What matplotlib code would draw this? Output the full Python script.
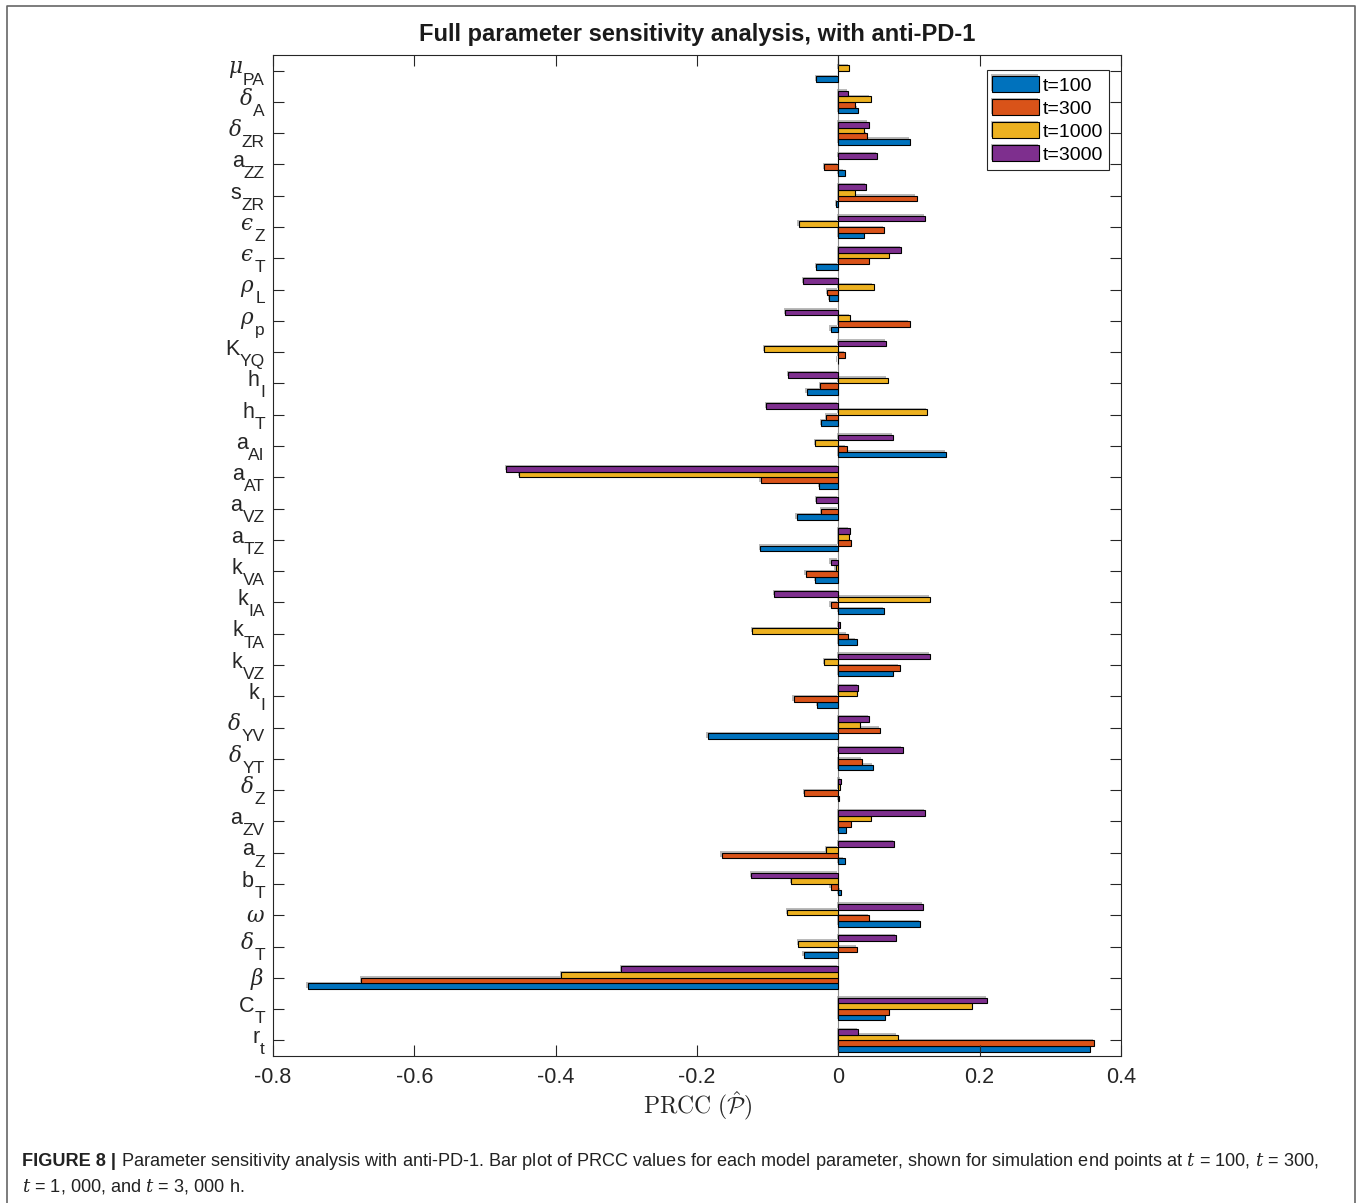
import matplotlib
matplotlib.use("Agg")
import matplotlib.pyplot as plt
import matplotlib.patheffects as pe
from matplotlib.transforms import offset_copy
import numpy as np

plt.rcParams['font.family'] = ['Liberation Sans', 'DejaVu Sans']
plt.rcParams['mathtext.fontset'] = 'custom'
plt.rcParams['mathtext.rm'] = 'Liberation Sans'
plt.rcParams['mathtext.it'] = 'DejaVu Serif:italic'
plt.rcParams['mathtext.bf'] = 'Liberation Sans:bold'

# parameters, top to bottom: main symbol and subscript
symbols = [r'$\mu$', r'$\delta$', r'$\delta$', 'a', 's', '$\u03f5$', '$\u03f5$', r'$\rho$',
           r'$\rho$', 'K', 'h', 'h', 'a', 'a', 'a', 'a', 'k', 'k', 'k', 'k', 'k',
           r'$\delta$', r'$\delta$', r'$\delta$', 'a', 'a', 'b', r'$\omega$', r'$\delta$',
           r'$\beta$', 'C', 'r']
subs = ['PA', 'A', 'ZR', 'ZZ', 'ZR', 'Z', 'T', 'L', 'p', 'YQ', 'I', 'T', 'AI', 'AT', 'VZ',
        'TZ', 'VA', 'IA', 'TA', 'VZ', 'I', 'YV', 'YT', 'Z', 'ZV', 'Z', 'T', '', 'T', '',
        'T', 't']

t100 = [-0.031, 0.028, 0.102, 0.009, -0.003, 0.036, -0.031, -0.013, -0.011, -0.001,
        -0.045, -0.024, 0.153, -0.027, -0.059, -0.111, -0.033, 0.065, 0.026, 0.077,
        -0.030, -0.185, 0.049, 0.001, 0.011, 0.009, 0.004, 0.116, -0.049, -0.751,
        0.066, 0.356]
t300 = [0.0, 0.024, 0.041, -0.020, 0.111, 0.065, 0.043, -0.016, 0.101, 0.010,
        -0.026, -0.017, 0.012, -0.110, -0.024, 0.018, -0.046, -0.011, 0.013, 0.087,
        -0.063, 0.059, 0.034, -0.048, 0.018, -0.165, -0.011, 0.044, 0.027, -0.675,
        0.072, 0.362]
t1000 = [0.015, 0.046, 0.037, 0.0, 0.024, -0.056, 0.072, 0.050, 0.017, -0.105,
         0.070, 0.126, -0.033, -0.452, 0.0, 0.015, -0.004, 0.130, -0.122, -0.020,
         0.027, 0.030, 0.0, 0.003, 0.046, -0.017, -0.067, -0.072, -0.057, -0.392,
         0.189, 0.084]
t3000 = [0.0, 0.014, 0.043, 0.055, 0.039, 0.123, 0.089, -0.050, -0.075, 0.068,
         -0.071, -0.102, 0.078, -0.470, -0.031, 0.016, -0.011, -0.091, 0.002, 0.130,
         0.028, 0.044, 0.091, 0.004, 0.123, 0.079, -0.123, 0.120, 0.082, -0.307,
         0.211, 0.028]

series = [t100, t300, t1000, t3000]
labels = ['t=100', 't=300', 't=1000', 't=3000']
colors = ['#0072BD', '#D95319', '#EDB120', '#7E2F8E']
xticks = [-0.8, -0.6, -0.4, -0.2, 0, 0.2, 0.4]
xticklabels = ['-0.8', '-0.6', '-0.4', '-0.2', '0', '0.2', '0.4']

n = len(symbols)
ypos = np.arange(n, 0, -1)
h = 0.727 / 4
txtcol = '#262626'

fig = plt.figure(figsize=(13.57, 12.03), dpi=100)
ax = fig.add_axes([273 / 1357, 1 - 1056 / 1203, 848 / 1357, 1001 / 1203])

shadow = [pe.SimplePatchShadow(offset=(-1, 1), shadow_rgbFace='0.55', alpha=0.6), pe.Normal()]
for k, vals in enumerate(series):
    bars = ax.barh(ypos + (k - 1.5) * h, vals, height=h, color=colors[k],
                   edgecolor='black', linewidth=0.8, label=labels[k])
    for b in bars:
        b.set_path_effects(shadow)

ax.axvline(0, color='0.55', linewidth=0.8, zorder=0)
ax.set_xlim(-0.8, 0.4)
ax.set_ylim(0.5, n + 0.5)
ax.set_yticks(ypos)
ax.set_yticklabels([])
ax.set_xticks(xticks)
ax.set_xticklabels(xticklabels, fontsize=15.5)
ax.tick_params(direction='in', length=8, width=0.8, color=txtcol, labelcolor=txtcol,
               top=True, right=True)
ax.tick_params(axis='x', pad=8)
for s in ax.spines.values():
    s.set_color(txtcol)
    s.set_linewidth(0.8)

# y labels: symbol raised, subscript dropped (MATLAB tex look)
renderer = fig.canvas.get_renderer()
ytrans = ax.get_yaxis_transform()
for y, sym, sub in zip(ypos, symbols, subs):
    w_pt = 0
    if sub:
        st = ax.text(0, y, sub, ha='right', va='baseline', fontsize=12.5, color=txtcol,
                     transform=offset_copy(ytrans, fig, x=-5.8, y=-10, units='points'))
        w_pt = st.get_window_extent(renderer).width * 72 / fig.dpi
    dy = -2 if sub else -5
    ax.text(0, y, sym, ha='right', va='baseline', fontsize=15.5, color=txtcol,
            transform=offset_copy(ytrans, fig, x=-5.8 - w_pt - 0.3, y=dy, units='points'))

ax.set_xlabel(r'$\mathrm{PRCC}\ (\hat{\mathcal{P}})$', fontsize=17, math_fontfamily='cm',
              color=txtcol, labelpad=1)

leg = ax.legend(loc='upper right', bbox_to_anchor=(0.986, 0.985), borderaxespad=0,
                fontsize=14, fancybox=False, edgecolor=txtcol, framealpha=1,
                handlelength=2.4, handleheight=0.9, labelspacing=0.22,
                handletextpad=0.2, borderpad=0.3)
leg.get_frame().set_linewidth(0.8)

fig.text(697 / 1357, 1 - 35 / 1203, 'Full parameter sensitivity analysis, with anti-PD-1',
         ha='center', va='center', fontsize=17, fontweight='bold', color='#1a1a1a')

# figure frame
fig.add_artist(plt.Line2D([7 / 1357, 7 / 1357, 1355 / 1357, 1355 / 1357],
                          [0, 1 - 6 / 1203, 1 - 6 / 1203, 0],
                          transform=fig.transFigure, color='0.4', linewidth=1.2))

# caption
cap1 = fig.text(22 / 1357, 1 - 1161 / 1203, 'FIGURE 8 |', ha='left', va='center',
                fontsize=13.1, fontweight='bold', color='#222222')
bb = cap1.get_window_extent(renderer)
fig.text((bb.x1 + 5) / 1357, 1 - 1161 / 1203,
         r'Parameter sensitivity analysis with anti-PD-1. Bar plot of PRCC values for each model '
         r'parameter, shown for simulation end points at $t$ = 100, $t$ = 300,',
         ha='left', va='center', fontsize=13.1, color='#222222')
fig.text(22 / 1357, 1 - 1186 / 1203, r'$t$ = 1, 000, and $t$ = 3, 000 h.',
         ha='left', va='center', fontsize=13.1, color='#222222')

fig.savefig('out.png', dpi=100)
